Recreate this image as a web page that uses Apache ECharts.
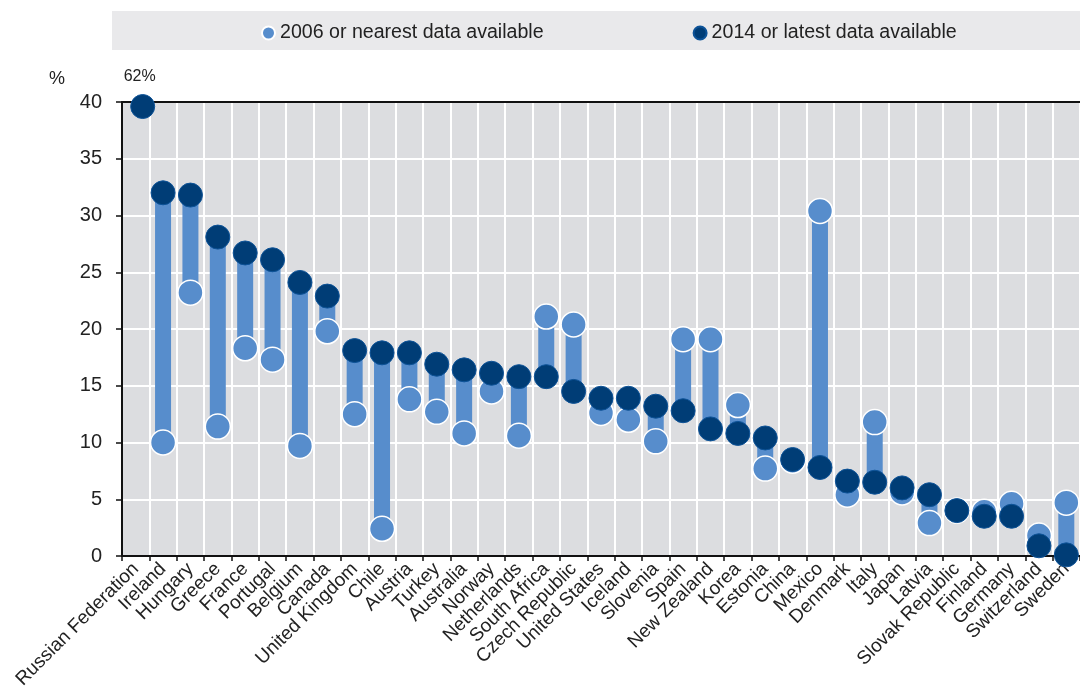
<!DOCTYPE html>
<html><head><meta charset="utf-8">
<script src="https://cdn.jsdelivr.net/npm/echarts@6/dist/echarts.min.js"></script>
<style>html,body{margin:0;padding:0;background:#fff}#c{width:1080px;height:694px}</style>
</head><body><div id="c"></div>
<script>
const categories = ["Russian Federation","Ireland","Hungary","Greece","France","Portugal","Belgium","Canada","United Kingdom","Chile","Austria","Turkey","Australia","Norway","Netherlands","South Africa","Czech Republic","United States","Iceland","Slovenia","Spain","New Zealand","Korea","Estonia","China","Mexico","Denmark","Italy","Japan","Latvia","Slovak Republic","Finland","Germany","Switzerland","Sweden"];
const v2006 = [null,10.0,23.2,11.4,18.3,17.3,9.7,19.8,12.5,2.4,13.8,12.7,10.8,14.5,10.6,21.1,20.4,12.6,12.0,10.1,19.1,19.1,13.3,7.7,8.4,30.4,5.4,11.8,5.6,2.9,4.0,3.9,4.6,1.8,4.7];
const v2014 = [62,32.0,31.8,28.1,26.7,26.1,24.1,22.9,18.1,17.9,17.9,16.9,16.4,16.1,15.8,15.8,14.5,13.9,13.9,13.2,12.8,11.2,10.8,10.4,8.5,7.8,6.6,6.5,6.0,5.4,4.0,3.5,3.5,0.9,0.1];
const yTicks = [0,5,10,15,20,25,30,35,40];
const axisMax = 40;
const capShown = 39.6; // off-scale values are drawn at the top of the axis with their value as label

const LIGHT = '#578dcc', DARK = '#003d76';
const FONT = '"Liberation Sans",Arial,sans-serif';

const inRange = v2014.map(v => v != null && v <= axisMax ? v : null);
const overIdx = v2014.map((v,i) => v != null && v > axisMax ? i : -1).filter(i => i >= 0);

const chart = echarts.init(document.getElementById('c'), null, {renderer:'canvas'});
chart.setOption({
  animation:false,
  backgroundColor:'#ffffff',
  graphic:[
    {type:'rect', z:-10, shape:{x:112,y:11,width:968,height:39}, style:{fill:'#e9e9eb'}},
    {type:'text', left:49, top:70, style:{text:'%', fill:'#222', font:'18px '+FONT}}
  ],
  legend:{
    data:['2006 or nearest data available','2014 or latest data available'],
    top:18, left:256, itemGap:149, icon:'circle', itemWidth:13, itemHeight:13,
    textStyle:{fontSize:19.6, color:'#222', fontFamily:FONT}
  },
  grid:{left:122, right:-12, top:102, bottom:138, show:true, backgroundColor:'#dcdde0', borderWidth:0},
  xAxis:[{
    type:'category', data:categories, boundaryGap:true,
    axisLine:{lineStyle:{color:'#111', width:2}},
    axisTick:{show:true, length:5, lineStyle:{color:'#111', width:1.5}},
    axisLabel:{rotate:45, interval:0, fontSize:19, color:'#222', fontFamily:FONT, margin:10},
    splitLine:{show:true, lineStyle:{color:'#ffffff', width:2}}
  },{
    type:'category', data:categories, position:'top', boundaryGap:true,
    axisLine:{lineStyle:{color:'#111', width:2}}, axisTick:{show:false}, axisLabel:{show:false}, splitLine:{show:false}
  }],
  yAxis:{
    type:'value', min:0, max:axisMax, interval:5,
    axisLine:{show:true, lineStyle:{color:'#111', width:2}},
    axisTick:{show:true, inside:false, length:6, lineStyle:{color:'#111', width:1.5}},
    axisLabel:{fontSize:20, color:'#222', fontFamily:FONT, margin:20, formatter: v => yTicks.includes(v) ? String(v) : ''},
    splitLine:{show:true, lineStyle:{color:'#ffffff', width:2}}
  },
  series:[
    {
      type:'custom', name:'connector', silent:true, z:2,
      data: categories.map((c,i) => [i, v2006[i] == null ? '-' : v2006[i], inRange[i] == null ? '-' : inRange[i]]),
      encode:{x:0, y:[1,2]},
      renderItem:(params, api) => {
        const x = api.value(0), a = api.value(1), b = api.value(2);
        if (isNaN(a) || isNaN(b)) return null;
        const p1 = api.coord([x,a]), p2 = api.coord([x,b]);
        return {type:'rect', shape:{x:p1[0]-8, y:Math.min(p1[1],p2[1]), width:16, height:Math.abs(p1[1]-p2[1])}, style:{fill:LIGHT}};
      }
    },
    {
      type:'scatter', name:'2006 or nearest data available', z:3,
      data: v2006, symbol:'circle', symbolSize:25,
      itemStyle:{color:LIGHT, borderColor:'#ffffff', borderWidth:1.5, opacity:1}
    },
    {
      type:'scatter', name:'2014 or latest data available', z:4,
      data: inRange, symbol:'circle', symbolSize:24,
      itemStyle:{color:DARK, borderColor:'#0d5398', borderWidth:1, opacity:1}
    },
    {
      type:'scatter', name:'offscale', z:5,
      data: overIdx.map(i => ({value:[i, capShown], raw:v2014[i]})),
      symbol:'circle', symbolSize:24, symbolOffset:[7,0],
      itemStyle:{color:DARK, borderColor:'#0d5398', borderWidth:1, opacity:1},
      label:{show:true, position:'top', offset:[-3,-1], distance:8, fontSize:16, color:'#222', fontFamily:FONT,
        formatter: p => p.data.raw + '%'}
    }
  ]
});
</script></body></html>
